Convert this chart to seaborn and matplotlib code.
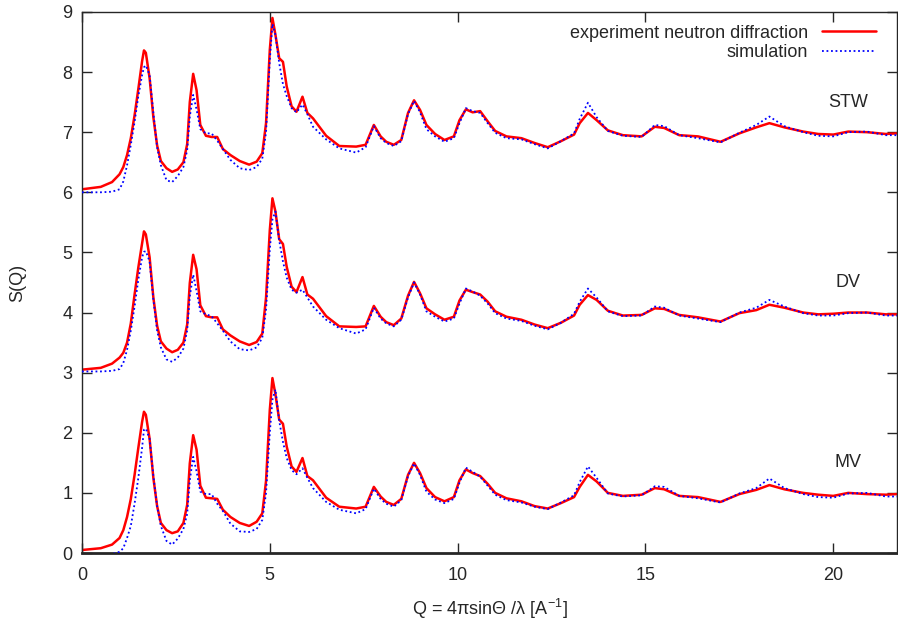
import numpy as np
import pandas as pd
import matplotlib
matplotlib.use('Agg')
import matplotlib.pyplot as plt
import seaborn as sns

# Q grid (A^-1) and S(Q) values (curves already shifted by 0, 3, 6)
q = [0.0, 0.5, 0.8, 1.0, 1.1, 1.2, 1.3, 1.4, 1.5, 1.6, 1.65, 1.7, 1.8, 1.9, 2.0, 2.1,
     2.25, 2.4, 2.55, 2.7, 2.8, 2.87, 2.96, 3.05, 3.15, 3.3, 3.45, 3.6, 3.75, 3.95, 4.2,
     4.45, 4.65, 4.8, 4.9, 5.0, 5.07, 5.15, 5.25, 5.35, 5.45, 5.58, 5.71, 5.87, 6.0, 6.15,
     6.5, 6.85, 7.3, 7.55, 7.77, 7.95, 8.1, 8.3, 8.5, 8.68, 8.84, 9.0, 9.17, 9.4, 9.65,
     9.9, 10.05, 10.22, 10.4, 10.6, 10.8, 11.0, 11.3, 11.7, 12.05, 12.4, 12.75, 13.1,
     13.25, 13.47, 13.7, 14.0, 14.4, 14.9, 15.25, 15.5, 15.9, 16.4, 17.0, 17.5, 17.95,
     18.3, 18.7, 19.2, 19.6, 20.0, 20.4, 20.9, 21.4, 21.7]

stw_exp = [6.05, 6.09, 6.17, 6.30, 6.42, 6.62, 6.90, 7.28, 7.72, 8.18, 8.36, 8.32, 7.90, 7.25, 6.78, 6.52,
           6.40, 6.34, 6.38, 6.50, 6.80, 7.50, 7.97, 7.70, 7.12, 6.94, 6.92, 6.92, 6.72, 6.62, 6.52,
           6.46, 6.51, 6.65, 7.15, 8.37, 8.90, 8.62, 8.23, 8.17, 7.76, 7.43, 7.34, 7.59, 7.32, 7.23,
           6.94, 6.77, 6.76, 6.79, 7.12, 6.93, 6.84, 6.79, 6.87, 7.32, 7.53, 7.37, 7.12, 6.97, 6.87,
           6.93, 7.20, 7.38, 7.33, 7.35, 7.18, 7.02, 6.93, 6.90, 6.82, 6.75, 6.85, 6.96,
           7.15, 7.32, 7.20, 7.03, 6.95, 6.93, 7.09, 7.07, 6.95, 6.93, 6.84, 6.98, 7.08,
           7.15, 7.08, 7.01, 6.97, 6.96, 7.01, 7.00, 6.97, 6.98]
stw_sim = [6.00, 6.00, 6.01, 6.05, 6.18, 6.45, 6.79, 7.17, 7.60, 7.95, 8.08, 8.11, 7.95, 7.32, 6.75, 6.45,
           6.20, 6.17, 6.27, 6.42, 6.70, 7.26, 7.62, 7.38, 7.05, 6.98, 6.98, 6.86, 6.72, 6.54, 6.40,
           6.37, 6.42, 6.56, 7.00, 8.20, 8.80, 8.62, 8.15, 7.80, 7.60, 7.40, 7.33, 7.46, 7.30, 7.09,
           6.88, 6.73, 6.66, 6.75, 7.10, 6.90, 6.82, 6.77, 6.85, 7.30, 7.52, 7.33, 7.05, 6.93, 6.84,
           6.90, 7.15, 7.40, 7.35, 7.32, 7.15, 6.99, 6.90, 6.88, 6.80, 6.73, 6.85, 6.98,
           7.22, 7.49, 7.25, 7.02, 6.94, 6.92, 7.12, 7.10, 6.95, 6.90, 6.83, 6.99, 7.12,
           7.26, 7.10, 7.00, 6.94, 6.93, 7.00, 7.01, 6.95, 6.95]

dv_exp = [3.05, 3.08, 3.15, 3.25, 3.33, 3.50, 3.82, 4.30, 4.75, 5.15, 5.35, 5.30, 4.92, 4.25, 3.78, 3.52,
          3.40, 3.34, 3.38, 3.50, 3.80, 4.49, 4.96, 4.72, 4.12, 3.94, 3.92, 3.92, 3.72, 3.62, 3.52,
          3.46, 3.51, 3.65, 4.25, 5.37, 5.90, 5.68, 5.22, 5.14, 4.76, 4.43, 4.34, 4.59, 4.30, 4.23,
          3.94, 3.77, 3.76, 3.77, 4.11, 3.93, 3.84, 3.79, 3.90, 4.28, 4.51, 4.32, 4.07, 3.97, 3.88,
          3.93, 4.20, 4.38, 4.34, 4.30, 4.18, 4.02, 3.93, 3.88, 3.80, 3.74, 3.83, 3.95,
          4.13, 4.29, 4.21, 4.03, 3.95, 3.96, 4.07, 4.06, 3.96, 3.92, 3.85, 3.99, 4.04,
          4.13, 4.08, 4.00, 3.97, 3.98, 4.00, 4.00, 3.97, 3.97]
dv_sim = [3.02, 3.02, 3.03, 3.06, 3.16, 3.38, 3.70, 4.10, 4.55, 4.92, 5.01, 5.02, 4.85, 4.22, 3.70, 3.42,
          3.22, 3.18, 3.25, 3.40, 3.70, 4.27, 4.63, 4.36, 4.02, 3.97, 3.94, 3.82, 3.70, 3.52, 3.39,
          3.37, 3.42, 3.58, 4.05, 5.05, 5.55, 5.68, 5.20, 4.85, 4.58, 4.38, 4.33, 4.38, 4.25, 4.10,
          3.88, 3.74, 3.65, 3.72, 4.08, 3.90, 3.82, 3.77, 3.88, 4.25, 4.50, 4.30, 4.02, 3.93, 3.85,
          3.90, 4.15, 4.40, 4.35, 4.28, 4.15, 3.99, 3.90, 3.86, 3.78, 3.72, 3.83, 3.98,
          4.18, 4.40, 4.25, 4.02, 3.94, 3.95, 4.10, 4.08, 3.95, 3.90, 3.84, 4.00, 4.08,
          4.21, 4.10, 3.99, 3.95, 3.95, 3.99, 4.00, 3.95, 3.95]

mv_exp = [0.05, 0.08, 0.14, 0.25, 0.38, 0.60, 0.90, 1.30, 1.75, 2.18, 2.35, 2.30, 1.90, 1.25, 0.78, 0.50,
          0.38, 0.33, 0.36, 0.50, 0.80, 1.49, 1.96, 1.72, 1.12, 0.92, 0.91, 0.90, 0.72, 0.60, 0.50,
          0.45, 0.52, 0.66, 1.20, 2.38, 2.91, 2.64, 2.22, 2.15, 1.77, 1.44, 1.35, 1.58, 1.28, 1.21,
          0.92, 0.77, 0.74, 0.77, 1.10, 0.94, 0.85, 0.80, 0.90, 1.30, 1.50, 1.33, 1.08, 0.93, 0.86,
          0.93, 1.21, 1.39, 1.33, 1.28, 1.15, 1.00, 0.91, 0.86, 0.78, 0.74, 0.83, 0.93,
          1.10, 1.30, 1.19, 1.00, 0.95, 0.97, 1.08, 1.06, 0.95, 0.93, 0.85, 0.98, 1.05,
          1.13, 1.06, 1.00, 0.97, 0.95, 1.00, 0.98, 0.97, 0.98]
mv_sim = [-0.02, -0.02, -0.02, 0.02, 0.08, 0.25, 0.45, 0.82, 1.25, 1.75, 2.05, 2.07, 1.90, 1.28, 0.78, 0.45,
          0.20, 0.14, 0.24, 0.40, 0.65, 1.21, 1.60, 1.36, 1.02, 0.98, 0.98, 0.82, 0.70, 0.49, 0.36,
          0.35, 0.40, 0.55, 1.00, 2.00, 2.55, 2.72, 2.20, 1.85, 1.58, 1.38, 1.31, 1.41, 1.25, 1.08,
          0.85, 0.72, 0.66, 0.73, 1.07, 0.90, 0.82, 0.77, 0.88, 1.28, 1.49, 1.30, 1.02, 0.89, 0.83,
          0.90, 1.17, 1.42, 1.35, 1.27, 1.12, 0.97, 0.88, 0.84, 0.77, 0.73, 0.84, 0.96,
          1.18, 1.44, 1.25, 0.99, 0.94, 0.96, 1.11, 1.10, 0.95, 0.91, 0.84, 0.99, 1.08,
          1.24, 1.08, 0.98, 0.93, 0.92, 0.99, 1.00, 0.94, 0.94]

sample_names = ['STW', 'DV', 'MV']
sample_label_y = [7.5, 4.5, 1.5]

sns.set_style('ticks')
plt.rcParams['font.family'] = ['Liberation Sans', 'DejaVu Sans']
plt.rcParams['mathtext.default'] = 'regular'

fig = plt.figure(figsize=(8.98, 6.28), dpi=100)
ax = fig.add_axes([0.0913, 0.1194, 0.9077, 0.8616])

exp_curves = [stw_exp, dv_exp, mv_exp]
sim_curves = [stw_sim, dv_sim, mv_sim]
for i in range(3):
    sns.lineplot(x=q, y=exp_curves[i], ax=ax, color='#ff0000', linewidth=1.8,
                 label='experiment neutron diffraction' if i == 0 else None, zorder=2)
    sns.lineplot(x=q, y=sim_curves[i], ax=ax, color='#0000ff', linewidth=1.3,
                 linestyle=(0, (1, 1.5)), label='simulation' if i == 0 else None, zorder=3)

for name, yy in zip(sample_names, sample_label_y):
    ax.text(20.4, yy, name, fontsize=13, ha='center', va='center')

ax.set_xlim(0, 21.7)
ax.set_ylim(0, 9)
ax.set_xticks([0, 5, 10, 15, 20])
ax.set_yticks(range(10))
ax.tick_params(direction='in', length=7, width=1, top=True, right=True, labelsize=13)
ax.tick_params(axis='x', pad=10)
ax.tick_params(axis='y', pad=7)
for s in ax.spines.values():
    s.set_visible(True)
    s.set_linewidth(1.0)
ax.spines['bottom'].set_linewidth(2.0)

ax.set_xlabel('Q = 4πsinΘ /λ [A$^{-1}$]', fontsize=13, labelpad=9)
ax.set_ylabel('S(Q)', fontsize=13, labelpad=26)

leg = ax.legend(loc='upper right', bbox_to_anchor=(0.99, 1.0), frameon=False, markerfirst=False,
                fontsize=13, handlelength=3.0, handletextpad=0.8, labelspacing=0.15,
                borderaxespad=0.3)
for t in leg.get_texts():
    t.set_ha('right')

fig.savefig('out.png', dpi=100)
